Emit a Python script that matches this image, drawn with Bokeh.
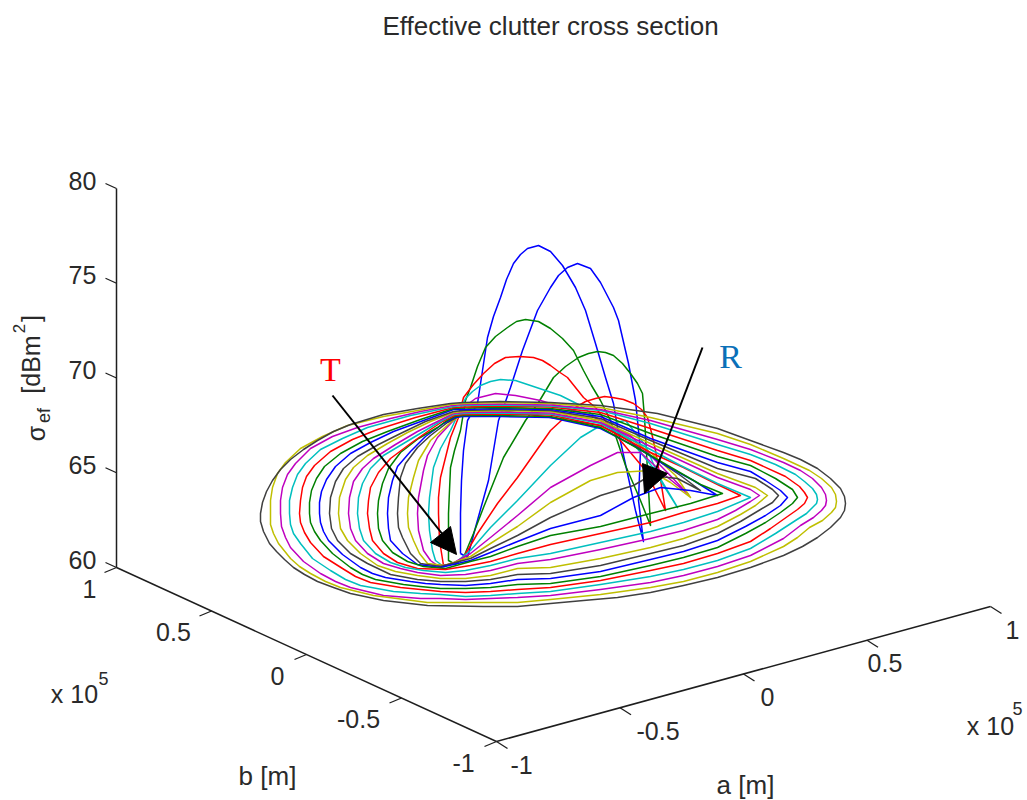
from bokeh.plotting import figure
from bokeh.embed import file_html
from bokeh.resources import INLINE
from bokeh.core.properties import value
from math import pi

# ---- chart text and tick values ----
title_text = "Effective clutter cross section"
z_ticks = [60, 65, 70, 75, 80]
ab_ticks = [-1, -0.5, 0, 0.5, 1]
z_tick_labels = ["60", "65", "70", "75", "80"]
ab_tick_labels = ["-1", "-0.5", "0", "0.5", "1"]
line_colors = ["#404040", "#bfbf00", "#bf00bf", "#00bfbf", "#ff0000", "#008000", "#0000ff"]

# ---- contour traces in the projected view plane, outermost first ----
loop_01 = [(450,403),(417,408),(383,414),(350,424),(333,431),(317,440),(303,449),(290,459),(280,469),(272,480),(266,491),(262,502),(260,513),(260,521),(263,531),(269,543),(276,551),(284,559),(293,567),(304,574),(317,581),(333,587),(350,593),(383,600),(427,605),(483,606),(517,606),(550,603),(583,600),(617,597),(650,592),(683,585),(717,577),(750,567),(783,555),(802,546),(817,537),(830,527),(840,517),(844,510),(845,503),(844,496),(840,488),(830,478),(817,468),(800,459),(783,452),(750,440),(717,428),(657,413),(600,405),(550,402),(500,401),(463,402),(450,403)]
loop_02 = [(450,404),(417,410),(383,416),(347,425),(322,436),(300,448),(285,462),(277,473),(272,487),(270,500),(270,513),(270,524),(273,533),(278,543),(290,558),(299,566),(310,573),(325,581),(340,587),(373,595),(427,602),(465,602),(490,602),(517,602),(550,599),(600,594),(650,587),(683,581),(717,572),(750,561),(783,546),(797,537),(809,527),(822,520),(831,512),(835,507),(836,501),(835,494),(831,487),(821,478),(809,470),(783,458),(750,444),(717,433),(650,417),(600,407),(550,403),(500,402),(463,403),(450,404)]
loop_03 = [(452,405),(420,411),(390,418),(357,427),(332,436),(310,448),(295,463),(287,474),(282,487),(280,500),(280,513),(281,526),(285,537),(290,547),(303,561),(320,573),(335,581),(350,587),(383,595),(420,598),(440,598),(465,599),(490,598),(517,597),(550,595),(600,589),(650,582),(683,575),(717,566),(750,555),(783,538),(800,525),(813,517),(821,510),(825,505),(826,500),(825,494),(821,487),(812,478),(800,470),(783,462),(750,449),(717,439),(650,420),(600,409),(550,404.5),(500,403.5),(463,404),(452,405)]
loop_04 = [(453,406),(410,415),(367,427),(342,438),(320,449),(305,463),(297,474),(292,487),(289,500),(289,513),(290,524),(293,533),(300,543),(312,558),(330,570),(345,579),(360,585),(393,591),(420,593),(440,594),(465,596),(490,595),(517,593),(550,591),(600,584),(650,576),(683,569),(717,560),(750,548),(775,533),(795,520),(806,513),(812,507),(816,503),(817,499),(816,494),(812,488),(804,481),(795,474),(775,464),(750,454),(717,444),(650,423),(600,410),(550,405.5),(500,404.5),(463,405),(453,406)]
loop_05 = [(453,407),(415,417),(377,429),(352,439),(330,451),(314,465),(306,476),(302,487),(300,500),(299,513),(300,522),(304,532),(310,542),(323,556),(342,568),(355,576),(370,582),(400,587),(420,589),(440,591),(465,592),(490,591),(517,589),(550,587),(600,580),(650,570),(683,563),(717,553),(750,541),(770,528),(787,516),(797,509),(804,503),(807,497),(804,492),(799,486),(785,476),(750,460),(717,450),(650,428),(600,412),(550,406.5),(500,405.5),(463,406.5),(453,407)]
loop_06 = [(453,408),(420,419),(387,431),(362,441),(340,453),(324,466),(316,478),(311,490),(309,502),(309,513),(310,522),(314,531),(320,540),(332,553),(350,567),(362,574),(375,579),(403,584),(420,586),(440,588),(465,588),(490,587),(517,584),(550,583),(600,576),(650,565),(683,557),(717,547),(745,533),(765,522),(780,512),(792,503),(797,497),(792,489),(775,478),(750,465),(717,456),(650,433),(600,414),(550,408),(500,407),(463,407.5),(453,408)]
loop_07 = [(453,409),(423,420),(393,431),(370,442),(350,453),(335,466),(326,479),(321,491),(319,502),(319,513),(320,522),(323,531),(328,540),(342,554),(360,567),(372,573),(385,577),(410,581),(425,583),(440,584),(465,585),(490,583),(517,579),(550,578),(600,571),(650,559),(683,551),(717,540),(745,526),(765,515),(780,505),(787,497),(780,490),(765,480),(750,471),(717,462),(650,438),(600,416),(550,409),(500,408),(463,409),(453,409)]
loop_08 = [(453,411),(425,421),(400,433),(378,444),(357,456),(343,468),(335,481),(330,497),(329,513),(331,528),(337,540),(350,553),(367,563),(390,574),(417,579),(440,581),(465,581),(490,579),(517,574),(550,573),(600,565),(650,553),(683,545),(717,533),(740,521),(760,509),(772,502),(778,495),(772,489),(755,478),(717,468),(650,440),(600,418),(550,410),(500,409),(463,410),(453,411)]
loop_09 = [(453,412),(430,421),(407,432),(387,443),(367,455),(353,467),(345,479),(339,497),(338,513),(340,528),(347,540),(360,553),(377,565),(395,571),(417,575),(440,578),(465,578),(490,575),(517,568),(550,567),(600,558),(650,547),(683,538),(717,526),(740,514),(755,505),(767,495),(755,487),(717,473),(650,443),(600,420),(550,411),(500,410),(463,411),(453,412)]
loop_10 = [(453,413),(435,422),(417,431),(395,444),(373,458),(362,468),(353,481),(349,497),(348,513),(350,528),(355,540),(367,553),(383,563),(400,568),(417,572),(440,575),(465,574),(490,570),(517,563),(550,559),(600,549),(650,538),(683,530),(717,519),(735,510),(750,501),(759,495),(750,489),(717,477),(650,446),(600,422),(550,412.5),(500,411.5),(463,412),(453,413)]
loop_11 = [(453,414),(438,422),(423,431),(403,443),(383,455),(370,468),(362,483),(358,497),(357,513),(359,528),(363,540),(375,553),(390,562),(405,567),(423,570),(445,572),(465,570),(490,565),(517,558),(550,553),(600,542),(650,531),(683,522),(717,511),(750,497),(717,483),(680,465),(650,449),(600,423),(550,413.5),(500,412.5),(463,413),(453,414)]
loop_12 = [(454,415),(442,421),(430,429),(410,443),(390,458),(378,472),(370,487),(368,500),(367,513),(369,528),(372,540),(383,553),(397,562),(417,568),(445,569),(470,565),(490,561),(517,553),(550,544),(600,533),(650,522),(683,512),(717,503),(740,495),(717,484),(683,467),(650,452),(600,425),(550,414.5),(500,413.5),(463,414),(454,415)]
loop_13 = [(454,416),(445,421),(437,427),(418,438),(400,452),(388,468),(382,483),(378,500),(377,513),(378,528),(382,540),(392,552),(407,561),(423,566),(445,568),(470,561),(490,556),(517,546),(550,535),(600,526),(650,513),(690,503),(722,493),(700,484),(650,455),(600,427),(550,416),(500,415),(463,415),(454,416)]
loop_14 = [(454,417),(443,423),(425,436),(410,451),(397,466),(392,480),(388,497),(387,513),(388,528),(390,540),(402,553),(417,564),(440,567),(470,560),(490,552),(517,541),(550,528),(600,515),(633,497),(660,487),(690,490),(717,495),(693,480),(667,466),(633,445),(600,428),(550,417),(500,416),(463,416),(454,417)]
loop_15 = [(456,417),(447,422),(430,435),(417,447),(405,463),(400,477),(398,497),(397,513),(398,527),(402,537),(410,553),(420,563),(440,566),(470,558),(490,548),(517,535),(550,517),(600,495),(633,485),(650,475),(677,478),(700,490),(680,475),(650,455),(620,435),(600,425),(550,417),(500,410),(470,411),(456,417)]
loop_16 = [(456,418),(450,422),(430,440),(418,460),(413,477),(408,497),(407,513),(408,527),(413,540),(419,553),(427,563),(445,565),(470,556),(490,543),(517,526),(550,502),(590,480),(617,472),(650,470),(670,482),(690,497),(675,475),(650,452),(620,432),(590,418),(550,411),(520,407),(490,405),(468,408),(456,418)]
loop_17 = [(456,417),(453,420),(437,437),(427,455),(423,470),(418,497),(417,513),(418,530),(423,550),(430,560),(437,565),(450,564),(470,553),(490,537),(517,515),(550,487),(590,465),(617,452),(640,452),(665,475),(688,494),(660,465),(630,435),(590,415),(540,400),(515,395),(495,393),(475,398),(463,407),(456,417)]
loop_18 = [(456,417),(450,430),(440,448),(433,467),(429,497),(428,513),(429,530),(432,550),(435,560),(443,566),(455,562),(470,550),(490,527),(517,500),(550,465),(580,437),(600,425),(625,420),(645,445),(660,480),(677,507),(655,470),(630,440),(600,420),(580,405),(570,400),(560,395),(545,390),(530,385),(515,380),(500,379),(490,381),(480,385),(472,391),(465,398),(456,417)]
loop_19 = [(458,417),(450,437),(440,477),(438,497),(438,513),(439,540),(443,565),(455,562),(463,557),(477,533),(497,503),(517,477),(550,430),(575,407),(585,401),(595,398),(604,396),(612,397),(623,399),(633,403),(641,409),(647,417),(651,432),(655,450),(661,485),(665,510),(645,470),(620,440),(595,407),(583,397),(575,387),(567,377),(558,371),(550,365),(542,360),(533,357),(519,356),(505,357),(494,363),(483,373),(473,384),(463,397),(458,417)]
loop_20 = [(460,430),(454,450),(450,467),(449,490),(448,513),(448,560),(455,564),(463,557),(473,533),(483,507),(503,457),(525,420),(538,402),(553,377),(565,366),(578,357),(588,353),(597,351),(605,352),(613,355),(622,363),(630,373),(637,383),(642,393),(644,417),(647,470),(650,525),(640,500),(625,465),(610,420),(600,400),(591,385),(583,370),(578,360),(573,350),(562,338),(550,328),(538,321),(525,319),(516,321),(507,327),(495,336),(485,347),(477,366),(470,387),(465,400),(460,430)]
loop_21 = [(460,553),(460,513),(461,480),(463,450),(467,420),(477,403),(482,370),(487,337),(493,316),(500,297),(506,279),(513,263),(520,254),(527,248),(538,245),(550,251),(562,265),(575,287),(585,310),(595,343),(605,377),(613,403),(617,427),(627,473),(635,510),(643,541),(638,500),(640,450),(635,400),(628,363),(618,320),(613,307),(600,282),(590,268),(577,263),(567,267),(558,275),(550,287),(537,310),(522,350),(510,387),(504,404),(498,420),(488,480),(475,527),(467,557),(460,553)]
loops = [loop_01, loop_02, loop_03, loop_04, loop_05, loop_06, loop_07, loop_08, loop_09, loop_10, loop_11,
         loop_12, loop_13, loop_14, loop_15, loop_16, loop_17, loop_18, loop_19, loop_20, loop_21]

# ---- view geometry of the three axes ----
corner_back = (116, 567)
corner_top = (116, 188)
corner_front = (496, 741)
corner_right = (990, 606)
b_label_dx = [-33, -43, -29, -38, -27]
a_label_dx = [25, 38, 24, 18, 22]

W, H = 1027, 800
p = figure(width=W, height=H, x_range=(0, W), y_range=(H, 0), toolbar_location=None,
           output_backend="svg", min_border=0, outline_line_color=None, background_fill_color="white")
p.xaxis.visible = False
p.yaxis.visible = False
p.grid.visible = False

# contours, innermost first as the original draws them
for n in range(len(loops) - 1, -1, -1):
    xs = [pt[0] for pt in loops[n]]
    ys = [pt[1] for pt in loops[n]]
    p.line(xs, ys, line_color=line_colors[n % 7], line_width=1.5, line_join="round")

AX = "#1e1e1e"
TX = "#2a2a2a"
FONT = value("Liberation Sans")

def lerp(a, b, t):
    return (a[0] + (b[0] - a[0]) * t, a[1] + (b[1] - a[1]) * t)

def label(x, y, s, size=25, color=TX, font=FONT, angle=0.0):
    p.text([x], [y], text=[s], text_font=font, text_font_size=f"{size}px", text_color=color,
           text_align="center", text_baseline="middle", angle=angle)

# axis lines
p.line([corner_top[0], corner_back[0]], [corner_top[1], corner_back[1]], line_color=AX, line_width=1.5)
p.line([corner_back[0], corner_front[0]], [corner_back[1], corner_front[1]], line_color=AX, line_width=1.5)
p.line([corner_front[0], corner_right[0]], [corner_front[1], corner_right[1]], line_color=AX, line_width=1.5)

# z ticks
z_label_dx, z_label_dy = -34, -8
for v, s in zip(z_ticks, z_tick_labels):
    x0, y0 = lerp(corner_back, corner_top, (v - z_ticks[0]) / (z_ticks[-1] - z_ticks[0]))
    p.line([x0, x0 - 11], [y0, y0 - 5], line_color=AX, line_width=1.3)
    label(x0 + z_label_dx, y0 + z_label_dy, s)

# b ticks (1 at the back corner, -1 at the front corner)
for v, s, dx in zip(ab_ticks, ab_tick_labels, b_label_dx):
    x0, y0 = lerp(corner_front, corner_back, (v + 1) / 2)
    p.line([x0, x0 - 12], [y0, y0 + 5], line_color=AX, line_width=1.3)
    label(x0 + dx, y0 + 21, s)

# a ticks
for v, s, dx in zip(ab_ticks, ab_tick_labels, a_label_dx):
    x0, y0 = lerp(corner_front, corner_right, (v + 1) / 2)
    p.line([x0, x0 + 11], [y0, y0 + 7], line_color=AX, line_width=1.3)
    label(x0 + dx, y0 + 23, s)

# titles and axis labels
label(550, 25, title_text, size=26)
label(267, 775, "b [m]", size=26)
label(745, 784, "a [m]", size=26)
label(74, 693, "x 10")
label(103, 678, "5", size=18)
label(990, 725, "x 10")
label(1017, 708, "5", size=18)

# rotated z label, piece by piece
rot = pi / 2
label(35, 433, "\u03c3", size=25, angle=rot)
label(43, 415, "ef", size=18, angle=rot)
label(30, 364, "[dBm", angle=rot)
label(18, 328, "2", size=17, angle=rot)
label(30, 318, "]", angle=rot)

# annotations
serif = value("Liberation Serif")
label(330, 369, "T", size=34, color="#ff0000", font=serif)
label(730, 356, "R", size=34, color="#0a70b8", font=serif)
p.line([332, 447], [395, 540], line_color="#000000", line_width=2)
p.patch([456, 430, 450], [554, 542, 526], fill_color="#000000", line_color="#000000", line_width=1)
p.line([702, 655], [347, 470], line_color="#000000", line_width=2)
p.patch([644, 642, 667], [493, 463, 473], fill_color="#000000", line_color="#000000", line_width=1)

open("out.html", "w").write(file_html(p, INLINE))
